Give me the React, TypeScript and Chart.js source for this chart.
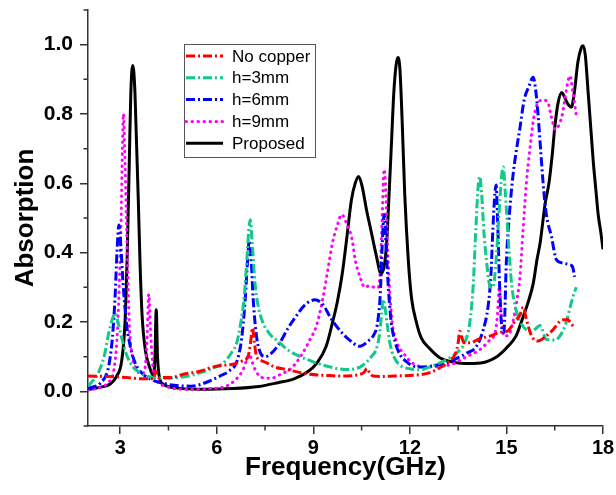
import React, { useEffect, useRef } from 'react';
import { Chart, registerables } from 'chart.js';

Chart.register(...registerables);

// ---- axis ticks ----
const X_TICKS = [3, 6, 9, 12, 15, 18];
const X_MINOR = [4.5, 7.5, 10.5, 13.5, 16.5];
const Y_TICKS = [0, 0.2, 0.4, 0.6, 0.8, 1.0];
const Y_MINOR = [-0.1, 0.1, 0.3, 0.5, 0.7, 0.9, 1.1];

const SERIES_NAMES = ['No copper', 'h=3mm', 'h=6mm', 'h=9mm', 'Proposed'];

// ---- series: [frequency GHz, absorption] ----
const noCopper = [
  [2.0, 0.044], [2.6, 0.043], [3.2, 0.04], [3.7, 0.036], [4.03, 0.036], [4.1, 0.058], [4.18, 0.04],
  [4.6, 0.04], [5.0, 0.05], [5.48, 0.058], [5.8, 0.068], [6.2, 0.075], [6.51, 0.078], [6.8, 0.088],
  [6.97, 0.1], [7.05, 0.14], [7.11, 0.183], [7.17, 0.14], [7.24, 0.1], [7.4, 0.088], [7.55, 0.082],
  [7.8, 0.07], [8.17, 0.063], [8.6, 0.054], [8.9, 0.049], [9.4, 0.046], [9.9, 0.044], [10.4, 0.048],
  [10.58, 0.055], [10.66, 0.066], [10.74, 0.055], [10.86, 0.044], [11.1, 0.043], [11.5, 0.044],
  [12.0, 0.046], [12.3, 0.048], [12.62, 0.054], [12.93, 0.068], [13.24, 0.088], [13.42, 0.11],
  [13.5, 0.14], [13.55, 0.173], [13.6, 0.16], [13.68, 0.14], [13.86, 0.14], [14.17, 0.152],
  [14.5, 0.16], [14.8, 0.17], [15.05, 0.175], [15.25, 0.2], [15.42, 0.22], [15.52, 0.242],
  [15.62, 0.207], [15.78, 0.16], [15.98, 0.145], [16.24, 0.16], [16.45, 0.178], [16.71, 0.205],
  [16.9, 0.207], [16.98, 0.2], [17.07, 0.188],
];

const h3mm = [
  [2.0, 0.015], [2.3, 0.05], [2.5, 0.1], [2.65, 0.17], [2.78, 0.215], [2.85, 0.225], [2.93, 0.2],
  [3.03, 0.16], [3.2, 0.105], [3.4, 0.07], [3.6, 0.055], [3.9, 0.042], [4.4, 0.038], [5.0, 0.042],
  [5.5, 0.054], [5.9, 0.068], [6.2, 0.082], [6.45, 0.11], [6.62, 0.14], [6.75, 0.2], [6.84, 0.26],
  [6.93, 0.37], [6.99, 0.46], [7.04, 0.495], [7.1, 0.43], [7.19, 0.31], [7.3, 0.24], [7.44, 0.197],
  [7.65, 0.165], [7.9, 0.145], [8.2, 0.12], [8.6, 0.1], [9.0, 0.085], [9.4, 0.073], [9.8, 0.065],
  [10.1, 0.063], [10.45, 0.07], [10.66, 0.085], [10.8, 0.1], [10.95, 0.12], [11.05, 0.16],
  [11.12, 0.22], [11.17, 0.265], [11.23, 0.24], [11.3, 0.19], [11.4, 0.13], [11.5, 0.1],
  [11.7, 0.075], [12.0, 0.065], [12.3, 0.062], [12.6, 0.07], [12.93, 0.082], [13.24, 0.097],
  [13.5, 0.115], [13.7, 0.14], [13.86, 0.197], [13.97, 0.31], [14.05, 0.47], [14.12, 0.59],
  [14.17, 0.62], [14.23, 0.57], [14.3, 0.46], [14.4, 0.36], [14.5, 0.3], [14.58, 0.3], [14.68, 0.38],
  [14.78, 0.53], [14.86, 0.63], [14.9, 0.647], [14.96, 0.58], [15.05, 0.45], [15.16, 0.31],
  [15.3, 0.235], [15.5, 0.19], [15.73, 0.173], [15.9, 0.18], [16.04, 0.19], [16.24, 0.15],
  [16.5, 0.148], [16.7, 0.165], [16.86, 0.2], [17.0, 0.25], [17.07, 0.274], [17.17, 0.3],
];

const h6mm = [
  [2.0, 0.008], [2.4, 0.025], [2.62, 0.063], [2.72, 0.12], [2.78, 0.18], [2.84, 0.27], [2.9, 0.4],
  [2.96, 0.48], [3.02, 0.42], [3.09, 0.31], [3.19, 0.2], [3.29, 0.14], [3.45, 0.085], [3.66, 0.054],
  [3.97, 0.034], [4.5, 0.02], [5.2, 0.015], [5.5, 0.02], [6.1, 0.044], [6.4, 0.06], [6.62, 0.085],
  [6.77, 0.15], [6.88, 0.26], [6.96, 0.38], [7.01, 0.435], [7.07, 0.38], [7.13, 0.27], [7.22, 0.17],
  [7.32, 0.12], [7.5, 0.1], [7.7, 0.11], [7.96, 0.14], [8.2, 0.18], [8.45, 0.215], [8.75, 0.25],
  [9.05, 0.264], [9.3, 0.25], [9.55, 0.21], [9.83, 0.175], [10.1, 0.15], [10.45, 0.13], [10.7, 0.145],
  [10.86, 0.16], [11.0, 0.2], [11.08, 0.28], [11.14, 0.42], [11.2, 0.51], [11.26, 0.42], [11.33, 0.3],
  [11.42, 0.2], [11.55, 0.14], [11.7, 0.105], [11.9, 0.085], [12.1, 0.073], [12.4, 0.07], [12.8, 0.075],
  [13.14, 0.082], [13.45, 0.095], [13.76, 0.11], [14.07, 0.13], [14.28, 0.178], [14.43, 0.245],
  [14.52, 0.34], [14.58, 0.47], [14.64, 0.57], [14.68, 0.595], [14.73, 0.48], [14.79, 0.3],
  [14.86, 0.18], [14.92, 0.17], [15.0, 0.38], [15.1, 0.52], [15.2, 0.62], [15.3, 0.69], [15.42, 0.76],
  [15.55, 0.84], [15.7, 0.88], [15.83, 0.906], [15.92, 0.86], [15.98, 0.8], [16.06, 0.7], [16.14, 0.6],
  [16.24, 0.51], [16.4, 0.446], [16.55, 0.38], [16.75, 0.37], [16.97, 0.365], [17.05, 0.36],
  [17.12, 0.33],
];

const h9mm = [
  [2.0, 0.003], [2.4, 0.012], [2.62, 0.025], [2.8, 0.06], [2.9, 0.15], [2.97, 0.3], [3.03, 0.5],
  [3.07, 0.7], [3.1, 0.8], [3.14, 0.7], [3.19, 0.51], [3.24, 0.32], [3.29, 0.18], [3.38, 0.1],
  [3.5, 0.065], [3.65, 0.05], [3.76, 0.06], [3.83, 0.14], [3.89, 0.28], [3.95, 0.16], [4.03, 0.06],
  [4.15, 0.03], [4.4, 0.015], [5.0, 0.006], [5.8, 0.008], [6.3, 0.015], [6.6, 0.035], [6.82, 0.063],
  [6.95, 0.095], [7.02, 0.106], [7.1, 0.085], [7.19, 0.063], [7.4, 0.04], [7.7, 0.038], [8.0, 0.05],
  [8.3, 0.065], [8.6, 0.1], [8.9, 0.15], [9.1, 0.19], [9.3, 0.27], [9.45, 0.35], [9.6, 0.43],
  [9.75, 0.48], [9.88, 0.51], [10.05, 0.48], [10.2, 0.44], [10.3, 0.38], [10.45, 0.33], [10.6, 0.3],
  [10.75, 0.305], [10.9, 0.3], [11.02, 0.3], [11.08, 0.35], [11.14, 0.5], [11.2, 0.64], [11.25, 0.58],
  [11.3, 0.43], [11.36, 0.31], [11.45, 0.2], [11.6, 0.14], [11.8, 0.11], [12.2, 0.075], [12.6, 0.07],
  [12.93, 0.072], [13.3, 0.078], [13.76, 0.1], [14.17, 0.12], [14.5, 0.15], [14.65, 0.17],
  [14.72, 0.22], [14.78, 0.3], [14.84, 0.22], [14.92, 0.16], [15.05, 0.16], [15.2, 0.2], [15.32, 0.26],
  [15.42, 0.33], [15.52, 0.47], [15.62, 0.6], [15.73, 0.7], [15.85, 0.79], [16.0, 0.835],
  [16.14, 0.84], [16.28, 0.835], [16.4, 0.79], [16.52, 0.755], [16.64, 0.77], [16.74, 0.8],
  [16.86, 0.868], [16.97, 0.91], [17.07, 0.86], [17.17, 0.796],
];

const proposed = [
  [2.0, 0.005], [2.4, 0.012], [2.7, 0.022], [2.9, 0.045], [3.05, 0.09], [3.15, 0.2], [3.22, 0.4],
  [3.28, 0.65], [3.33, 0.86], [3.39, 0.94], [3.45, 0.88], [3.5, 0.74], [3.56, 0.56], [3.62, 0.36],
  [3.68, 0.22], [3.78, 0.12], [3.92, 0.068], [4.03, 0.045], [4.08, 0.1], [4.12, 0.235], [4.16, 0.1],
  [4.22, 0.04], [4.35, 0.02], [4.7, 0.01], [5.5, 0.006], [6.5, 0.008], [7.3, 0.014], [7.9, 0.025],
  [8.4, 0.036], [8.8, 0.055], [9.1, 0.08], [9.4, 0.13], [9.6, 0.2], [9.75, 0.26], [9.9, 0.34],
  [10.05, 0.45], [10.18, 0.55], [10.3, 0.6], [10.41, 0.62], [10.52, 0.59], [10.66, 0.52], [10.8, 0.46],
  [10.96, 0.39], [11.1, 0.34], [11.2, 0.36], [11.28, 0.43], [11.36, 0.58], [11.43, 0.72], [11.5, 0.86],
  [11.57, 0.94], [11.63, 0.963], [11.69, 0.93], [11.76, 0.78], [11.84, 0.57], [11.95, 0.38],
  [12.05, 0.27], [12.2, 0.2], [12.35, 0.155], [12.6, 0.125], [12.93, 0.097], [13.3, 0.085],
  [13.7, 0.08], [14.2, 0.082], [14.7, 0.1], [15.05, 0.13], [15.3, 0.16], [15.5, 0.21], [15.65, 0.25],
  [15.83, 0.31], [15.95, 0.38], [16.05, 0.43], [16.2, 0.54], [16.32, 0.6], [16.42, 0.68], [16.5, 0.76],
  [16.6, 0.83], [16.72, 0.862], [16.8, 0.85], [16.9, 0.83], [17.02, 0.82], [17.12, 0.87], [17.22, 0.95],
  [17.32, 0.99], [17.38, 0.997], [17.45, 0.97], [17.54, 0.86], [17.62, 0.76], [17.7, 0.66],
  [17.78, 0.58], [17.85, 0.51], [17.93, 0.46], [18.0, 0.41],
];

const SERIES = [noCopper, h3mm, h6mm, h9mm, proposed];
const COLORS = ['#ff0000', '#10c98a', '#0000ff', '#ff00ff', '#000000'];
const DASHES = [[9, 3, 2, 3], [9, 3, 2, 3], [9, 3, 2, 3], [0.5, 5.5], []];
const CAPS = ['butt', 'butt', 'butt', 'round', 'butt'];

const FONT = '"Liberation Sans", Arial, Helvetica, sans-serif';
const AXIS_COLOR = '#333333';

const decorPlugin = {
  id: 'decor',
  afterDraw(chart: any) {
    const { ctx, chartArea, scales } = chart;
    const xs = scales.x;
    const ys = scales.y;
    ctx.save();
    // minor ticks
    ctx.strokeStyle = AXIS_COLOR;
    ctx.lineWidth = 1.5;
    ctx.beginPath();
    for (const v of X_MINOR) {
      const px = xs.getPixelForValue(v);
      ctx.moveTo(px, chartArea.bottom);
      ctx.lineTo(px, chartArea.bottom + 4.5);
    }
    for (const v of Y_MINOR) {
      const py = ys.getPixelForValue(v);
      ctx.moveTo(chartArea.left, py);
      ctx.lineTo(chartArea.left - 4.5, py);
    }
    ctx.stroke();

    // legend box
    const bx = Math.round(chartArea.left + 96);
    const by = Math.round(chartArea.top + 34);
    const bw = 131;
    const bh = 113;
    ctx.fillStyle = '#ffffff';
    ctx.fillRect(bx, by, bw, bh);
    ctx.strokeStyle = '#555555';
    ctx.lineWidth = 1;
    ctx.strokeRect(bx + 0.5, by + 0.5, bw, bh);
    chart.data.datasets.forEach((ds: any, i: number) => {
      const y = by + 12 + i * 21.8;
      ctx.save();
      ctx.strokeStyle = ds.borderColor;
      ctx.lineWidth = ds.borderWidth;
      ctx.setLineDash(ds.borderDash || []);
      ctx.lineCap = ds.borderCapStyle || 'butt';
      ctx.beginPath();
      ctx.moveTo(bx + 2, y);
      ctx.lineTo(bx + 39, y);
      ctx.stroke();
      ctx.restore();
      ctx.fillStyle = '#000000';
      ctx.font = `17px ${FONT}`;
      ctx.textBaseline = 'middle';
      ctx.textAlign = 'left';
      ctx.fillText(ds.label, bx + 48, y + 1);
    });
    ctx.restore();
  },
};

export default function App() {
  const canvasRef = useRef<HTMLCanvasElement | null>(null);

  useEffect(() => {
    const canvas = canvasRef.current;
    if (!canvas) return;
    const datasets = SERIES.map((s, i) => ({
      label: SERIES_NAMES[i],
      data: s.map(([x, y]) => ({ x, y })),
      borderColor: COLORS[i],
      backgroundColor: COLORS[i],
      borderWidth: 3,
      borderDash: DASHES[i],
      borderCapStyle: CAPS[i],
      pointRadius: 0,
      fill: false,
      cubicInterpolationMode: 'monotone',
    }));
    const chart = new Chart(canvas, {
      type: 'line',
      data: { datasets },
      options: {
        responsive: false,
        animation: false,
        devicePixelRatio: 1,
        layout: { padding: { top: 10, right: 13, left: 0, bottom: 0 } },
        plugins: { legend: { display: false }, tooltip: { enabled: false } },
        scales: {
          x: {
            type: 'linear',
            min: 2,
            max: 18,
            afterBuildTicks: (scale: any) => {
              scale.ticks = X_TICKS.map((v) => ({ value: v }));
            },
            afterFit: (scale: any) => {
              scale.height = 69;
              scale.paddingRight = 0;
              scale.paddingLeft = 0;
            },
            grid: {
              display: true,
              drawOnChartArea: false,
              drawTicks: true,
              tickLength: 8,
              color: AXIS_COLOR,
              lineWidth: 1.5,
            },
            border: { display: true, color: AXIS_COLOR, width: 1.5 },
            ticks: {
              color: '#000',
              padding: 4,
              maxRotation: 0,
              font: { family: FONT, size: 20, weight: 'bold', lineHeight: 1 },
              callback: (v: any) => String(v),
            },
            title: {
              display: true,
              text: 'Frequency(GHz)',
              color: '#000',
              font: { family: FONT, size: 26, weight: 'bold', lineHeight: 1.2 },
              padding: { top: 0, bottom: 12 },
            },
          },
          y: {
            type: 'linear',
            min: -0.1,
            max: 1.1,
            afterBuildTicks: (scale: any) => {
              scale.ticks = Y_TICKS.map((v) => ({ value: v }));
            },
            afterFit: (scale: any) => {
              scale.width = 88;
              scale.paddingTop = 0;
              scale.paddingBottom = 0;
            },
            grid: {
              display: true,
              drawOnChartArea: false,
              drawTicks: true,
              tickLength: 8,
              color: AXIS_COLOR,
              lineWidth: 1.5,
            },
            border: { display: true, color: AXIS_COLOR, width: 1.5 },
            ticks: {
              color: '#000',
              padding: 7,
              font: { family: FONT, size: 21, weight: 'bold', lineHeight: 1 },
              callback: (v: any) => Number(v).toFixed(1),
            },
            title: {
              display: true,
              text: 'Absorption',
              color: '#000',
              font: { family: FONT, size: 26, weight: 'bold', lineHeight: 1.2 },
              padding: { top: 10, bottom: 0 },
            },
          },
        },
      },
      plugins: [decorPlugin],
    } as any);
    return () => chart.destroy();
  }, []);

  return (
    <div style={{ position: 'fixed', left: 0, top: 0, width: 616, height: 495, background: '#fff' }}>
      <canvas ref={canvasRef} width={616} height={495} style={{ display: 'block' }} />
    </div>
  );
}
